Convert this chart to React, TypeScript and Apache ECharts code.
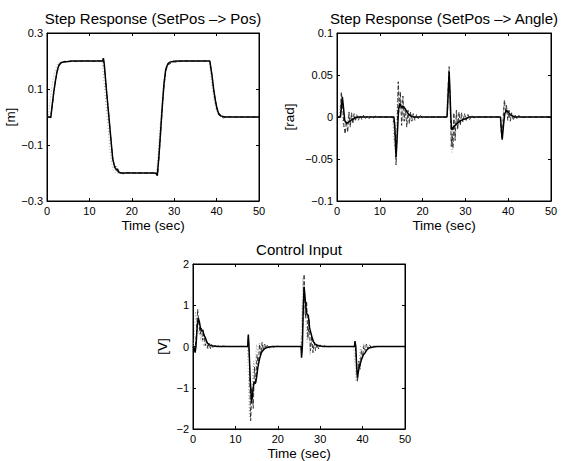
import React, { useEffect, useRef } from "react";
import * as echarts from "echarts";

type P = [number, number][];

const titles = ["Step Response (SetPos \u2013> Pos)", "Step Response (SetPos \u2013> Angle)", "Control Input"];
const yNames = ["[m]", "[rad]", "[V]"];
const xName = "Time (sec)";
const xTicks = [0, 10, 20, 30, 40, 50];
const posTicks = [-0.3, -0.1, 0.1, 0.3];
const angleTicks = [-0.1, -0.05, 0, 0.05, 0.1];
const voltTicks = [-2, -1, 0, 1, 2];

const posSolid: P = [[0,0],[0.7,0],[0.9,-0.002],[1.2,0.04],[1.6,0.09],[2.0,0.13],[2.4,0.165],[2.8,0.185],[3.2,0.193],[4,0.197],[5,0.198],[6,0.2],[8,0.2],[10,0.2],[12,0.2],[13.1,0.2],[13.3,0.21],[13.5,0.19],[14,0.1],[14.5,0.017],[15,-0.066],[15.5,-0.15],[16,-0.18],[16.4,-0.19],[16.6,-0.185],[17,-0.198],[17.5,-0.2],[20,-0.2],[25.5,-0.2],[25.9,-0.205],[26.0,-0.21],[26.4,-0.14],[26.8,-0.05],[27.2,0.04],[27.6,0.12],[28.0,0.17],[28.5,0.19],[29,0.196],[30,0.199],[31,0.2],[38.4,0.2],[38.5,0.2],[38.9,0.15],[39.3,0.1],[39.7,0.06],[40.1,0.03],[40.5,0.012],[41,0.004],[42,0],[50,0]];
const posDashed: P = [[0,0],[0.8,0],[1.2,0.03],[1.6,0.085],[2,0.13],[2.4,0.16],[2.8,0.182],[3.2,0.19],[3.8,0.197],[4.5,0.195],[5.5,0.2],[7,0.198],[9,0.201],[11,0.199],[13.1,0.2],[13.3,0.205],[13.6,0.17],[14,0.1],[14.5,0.02],[15,-0.07],[15.5,-0.145],[15.9,-0.18],[16.2,-0.175],[16.6,-0.195],[17.2,-0.197],[18,-0.203],[19,-0.198],[21,-0.2],[25.9,-0.2],[26.1,-0.208],[26.4,-0.15],[26.8,-0.06],[27.2,0.035],[27.6,0.11],[28,0.16],[28.4,0.185],[29,0.19],[29.6,0.197],[30.5,0.196],[32,0.2],[38.4,0.2],[38.9,0.152],[39.3,0.1],[39.7,0.06],[40.1,0.028],[40.5,0.008],[41,0.002],[41.6,-0.003],[42.5,0.001],[44,0],[50,0]];
const posModel: P = [[0,0],[0.3,0],[0.7,0.05],[1.1,0.1],[1.5,0.14],[2,0.17],[2.5,0.19],[3,0.197],[4,0.2],[13,0.2],[13.2,0.17],[13.6,0.1],[14,0.03],[14.4,-0.04],[14.8,-0.11],[15.2,-0.16],[15.6,-0.19],[16.2,-0.2],[25.8,-0.2],[26,-0.17],[26.4,-0.09],[26.8,-0.01],[27.2,0.07],[27.6,0.13],[28,0.17],[28.5,0.19],[29,0.2],[38.3,0.2],[38.6,0.15],[39,0.1],[39.4,0.06],[39.8,0.03],[40.3,0.01],[41,0],[50,0]];

const angSolid: P = [[0,0],[0.8,0],[1.0,0.01],[1.25,0.024],[1.5,0.012],[1.8,-0.004],[2.2,-0.0075],[2.8,-0.006],[3.5,-0.003],[4.2,-0.001],[5,0],[13.3,0],[13.5,-0.01],[13.8,-0.048],[14.1,-0.02],[14.4,0.01],[14.7,0.016],[15.1,0.011],[15.5,0.013],[16,0.009],[16.6,0.004],[17.3,0.001],[18,0],[25.7,0],[26.0,0.03],[26.2,0.054],[26.4,0.03],[26.6,0.0],[26.8,-0.0155],[27.2,-0.012],[27.6,-0.01],[28.2,-0.007],[29,-0.004],[30,-0.002],[31,0],[38.2,0],[38.4,-0.015],[38.6,-0.027],[38.9,-0.01],[39.2,0.004],[39.6,0.008],[40.1,0.005],[40.7,0.002],[41.5,0],[50,0]];
const angDashed: P = [[0,0],[0.8,0],[1.0,0.03],[1.3,0.015],[1.6,-0.01],[1.9,-0.02],[2.2,-0.005],[2.5,-0.018],[2.8,0.006],[3.1,-0.012],[3.4,0.005],[3.7,-0.008],[4.0,0.004],[4.3,-0.005],[4.6,0.003],[5,-0.004],[5.4,0.002],[5.8,-0.003],[6.2,0.002],[6.6,-0.002],[7,0.001],[7.5,-0.002],[8,0.001],[8.5,-0.001],[9,0.001],[10,0],[13.2,0],[13.5,-0.02],[13.8,-0.057],[14.1,-0.01],[14.3,0.042],[14.6,0.01],[14.8,0.03],[15.1,-0.01],[15.4,0.025],[15.7,-0.005],[16,0.01],[16.3,-0.012],[16.6,0.008],[16.9,-0.008],[17.2,0.006],[17.5,-0.005],[17.8,0.004],[18.2,-0.004],[18.6,0.003],[19,-0.002],[19.5,0.002],[20,-0.001],[21,0],[25.8,0],[26.0,0.04],[26.2,0.06],[26.5,0.01],[26.7,-0.035],[26.9,-0.02],[27.1,-0.037],[27.3,0.005],[27.6,-0.028],[27.9,0.008],[28.2,-0.015],[28.5,0.006],[28.8,-0.01],[29.1,0.005],[29.4,-0.006],[29.8,0.004],[30.2,-0.004],[30.6,0.003],[31,-0.003],[31.5,0.002],[32,-0.001],[33,0],[38.2,0],[38.4,-0.02],[38.6,-0.025],[38.9,0.005],[39.1,0.02],[39.4,0.005],[39.6,0.014],[39.9,-0.004],[40.2,0.008],[40.5,-0.005],[40.8,0.005],[41.2,-0.004],[41.6,0.003],[42,-0.002],[42.5,0.002],[43,-0.001],[44,0],[50,0]];
const angModel: P = [[0,0],[0.5,0],[0.8,0.02],[1.1,0.005],[1.5,-0.012],[1.9,-0.004],[2.3,-0.01],[2.7,0.004],[3.1,-0.004],[3.6,0.002],[4.2,-0.002],[5,0],[13,0],[13.3,-0.03],[13.6,-0.04],[13.9,0.0],[14.2,0.03],[14.6,0.005],[15,0.02],[15.4,-0.005],[15.8,0.01],[16.3,-0.006],[16.8,0.004],[17.4,-0.002],[18,0],[25.6,0],[25.8,0.03],[26.1,0.045],[26.5,-0.01],[26.9,-0.042],[27.2,-0.01],[27.5,-0.025],[27.9,0.002],[28.3,-0.01],[28.8,0.003],[29.3,-0.004],[30,0],[38,0],[38.3,-0.01],[38.6,-0.02],[38.9,0.01],[39.2,0.02],[39.6,0.004],[40,0.01],[40.5,-0.002],[41,0.003],[42,0],[50,0]];

const voltSolid: P = [[0,0],[0.3,-0.05],[0.5,-0.15],[0.7,0],[1.0,0.5],[1.25,0.69],[1.5,0.6],[1.8,0.42],[2.0,0.37],[2.3,0.4],[2.6,0.27],[2.9,0.22],[3.2,0.12],[3.5,0.07],[3.9,0.04],[4.3,0.02],[5,0.01],[6,0],[12.9,0],[13.05,0.29],[13.2,0],[13.5,-0.8],[13.8,-1.36],[14.1,-1.1],[14.4,-0.85],[14.7,-0.9],[15.0,-0.75],[15.3,-0.5],[15.7,-0.3],[16.1,-0.15],[16.6,-0.08],[17.2,-0.03],[18,-0.01],[19,0],[25.5,0],[25.6,-0.27],[25.8,0],[26.0,0.9],[26.2,1.45],[26.5,1.1],[26.8,0.8],[27.2,0.75],[27.5,0.45],[28.0,0.25],[28.4,0.12],[28.8,0.06],[29.3,0.03],[30,0.01],[31,0],[38.1,0],[38.2,0.13],[38.4,0],[38.6,-0.5],[38.8,-0.75],[39.1,-0.55],[39.4,-0.43],[39.8,-0.3],[40.2,-0.2],[40.6,-0.15],[41.1,-0.07],[41.7,-0.03],[42.5,-0.01],[43.5,0],[50,0]];
const voltDashed: P = [[0,0],[0.5,-0.05],[0.8,0.3],[1.1,0.9],[1.4,0.55],[1.7,0.3],[2.0,0.45],[2.3,0.15],[2.6,0.3],[2.9,0.02],[3.2,0.15],[3.5,-0.05],[3.8,0.08],[4.1,-0.05],[4.4,0.05],[4.8,-0.04],[5.2,0.03],[5.6,-0.03],[6,0.02],[6.5,-0.02],[7,0.01],[8,0],[12.9,0],[13.05,0.25],[13.3,-0.3],[13.6,-1.8],[13.9,-1.0],[14.2,-1.5],[14.5,-0.5],[14.8,-0.9],[15.1,-0.2],[15.4,-0.45],[15.7,0.05],[16.0,-0.2],[16.3,0.1],[16.6,-0.1],[16.9,0.06],[17.2,-0.06],[17.6,0.04],[18,-0.04],[18.5,0.03],[19,-0.02],[19.5,0.01],[20.5,0],[25.5,0],[25.6,-0.2],[25.9,0.6],[26.2,1.75],[26.5,0.7],[26.8,1.1],[27.1,0.2],[27.4,0.65],[27.7,-0.1],[28.0,0.25],[28.3,-0.15],[28.6,0.1],[28.9,-0.1],[29.2,0.06],[29.6,-0.06],[30,0.04],[30.5,-0.03],[31,0.02],[31.5,-0.01],[32.5,0],[38.1,0],[38.2,0.1],[38.5,-0.3],[38.8,-0.85],[39.1,-0.35],[39.4,-0.55],[39.7,-0.1],[40,-0.25],[40.3,0.02],[40.6,-0.1],[40.9,0.06],[41.2,-0.05],[41.6,0.04],[42,-0.02],[42.5,0.01],[43.5,0],[50,0]];
const voltModel: P = [[0,0],[0.3,0.2],[0.6,0.85],[0.9,0.6],[1.2,0.3],[1.5,0.5],[1.8,0.15],[2.1,0.25],[2.5,0.0],[2.9,0.1],[3.3,-0.05],[3.8,0.03],[4.5,-0.02],[5.5,0],[12.8,0],[13.0,-0.5],[13.3,-1.7],[13.6,-0.9],[13.9,-1.2],[14.3,-0.35],[14.6,-0.6],[15.0,0.05],[15.3,-0.15],[15.7,0.1],[16.1,-0.05],[16.6,0.03],[17.5,0],[25.4,0],[25.6,0.6],[25.9,1.65],[26.2,0.8],[26.5,1.0],[26.9,0.1],[27.2,0.5],[27.6,-0.2],[27.9,0.1],[28.3,-0.1],[28.7,0.05],[29.3,-0.02],[30,0],[37.9,0],[38.1,-0.3],[38.5,-0.85],[38.8,-0.4],[39.1,-0.5],[39.5,0.0],[39.8,-0.15],[40.2,0.08],[40.6,-0.03],[41.2,0.02],[42,0],[50,0]];

const FONT = "Liberation Sans, Arial, Helvetica, sans-serif";

const fmt = (v: number) => {
  const r = parseFloat(v.toFixed(3));
  return r < 0 ? "\u2212" + String(Math.abs(r)) : String(r);
};

export default function App() {
  const ref = useRef<HTMLDivElement>(null);
  useEffect(() => {
    if (!ref.current) return;
    const chart = echarts.init(ref.current, undefined, { renderer: "svg" });

    const grids = [
      { left: 47, top: 33, width: 212, height: 168 },
      { left: 337, top: 33, width: 214, height: 168 },
      { left: 193, top: 264, width: 212, height: 166 },
    ];
    const titleY = [18, 18, 249];
    const yTicks = [posTicks, angleTicks, voltTicks];
    const yNameGaps = [30, 41, 24];
    const seriesSets = [
      [posModel, posDashed, posSolid],
      [angModel, angDashed, angSolid],
      [voltModel, voltDashed, voltSolid],
    ];

    const xAxis: any[] = [];
    const yAxis: any[] = [];
    const series: any[] = [];
    const graphic: any[] = [];

    grids.forEach((g, i) => {
      graphic.push({
        type: "text",
        x: g.left + g.width / 2,
        y: titleY[i],
        silent: true,
        style: {
          text: titles[i],
          fontFamily: FONT,
          fontSize: 15,
          fill: "#000",
          align: "center",
          verticalAlign: "middle",
        },
      });
      const tk = yTicks[i];
      const common = {
        axisLine: { show: true, onZero: false, lineStyle: { color: "#000", width: 1 } },
        splitLine: { show: false },
      };
      xAxis.push({
        ...common,
        type: "value",
        gridIndex: i,
        min: xTicks[0],
        max: xTicks[xTicks.length - 1],
        interval: 10,
        position: "bottom",
        name: xName,
        nameLocation: "middle",
        nameGap: 17,
        nameTextStyle: { fontFamily: FONT, fontSize: 13.5, color: "#000" },
        axisTick: { show: true, inside: true, length: 3, lineStyle: { color: "#000" } },
        axisLabel: { fontFamily: FONT, fontSize: 11, color: "#000", margin: 4, formatter: fmt },
      });
      xAxis.push({
        ...common,
        type: "value",
        gridIndex: i,
        min: xTicks[0],
        max: xTicks[xTicks.length - 1],
        interval: 10,
        position: "top",
        axisTick: { show: true, inside: true, length: 3, lineStyle: { color: "#000" } },
        axisLabel: { show: false },
      });
      const yBase = {
        ...common,
        type: "value",
        gridIndex: i,
        min: tk[0],
        max: tk[tk.length - 1],
        interval: tk[1] - tk[0],
      };
      yAxis.push({
        ...yBase,
        position: "left",
        name: yNames[i],
        nameLocation: "middle",
        nameGap: yNameGaps[i],
        nameRotate: 90,
        nameTextStyle: { fontFamily: FONT, fontSize: 13.5, color: "#000" },
        axisTick: { show: true, inside: true, length: 3, lineStyle: { color: "#000" }, customValues: tk },
        axisLabel: { fontFamily: FONT, fontSize: 11, color: "#000", margin: 4, formatter: fmt, customValues: tk, showMinLabel: true, showMaxLabel: true },
      });
      yAxis.push({
        ...yBase,
        position: "right",
        axisTick: { show: true, inside: true, length: 3, lineStyle: { color: "#000" }, customValues: tk },
        axisLabel: { show: false },
      });
      const [m, d, s] = seriesSets[i];
      const base = { type: "line", showSymbol: false, xAxisIndex: 2 * i, yAxisIndex: 2 * i, silent: true };
      series.push({ ...base, data: m, lineStyle: { color: "#a0a0a0", width: 1, type: [1, 2] } });
      series.push({ ...base, data: d, lineStyle: { color: "#222", width: 0.9, type: [4, 2] } });
      series.push({ ...base, data: s, lineStyle: { color: "#000", width: 1.5, type: "solid" } });
    });

    chart.setOption({
      animation: false,
      backgroundColor: "#fff",
      graphic,
      grid: grids.map((g) => ({ ...g, show: true, borderColor: "#000", borderWidth: 1, backgroundColor: "#fff" })),
      xAxis,
      yAxis,
      series,
    });
    return () => chart.dispose();
  }, []);
  return <div ref={ref} style={{ position: "absolute", left: 0, top: 0, width: 567, height: 461 }} />;
}
